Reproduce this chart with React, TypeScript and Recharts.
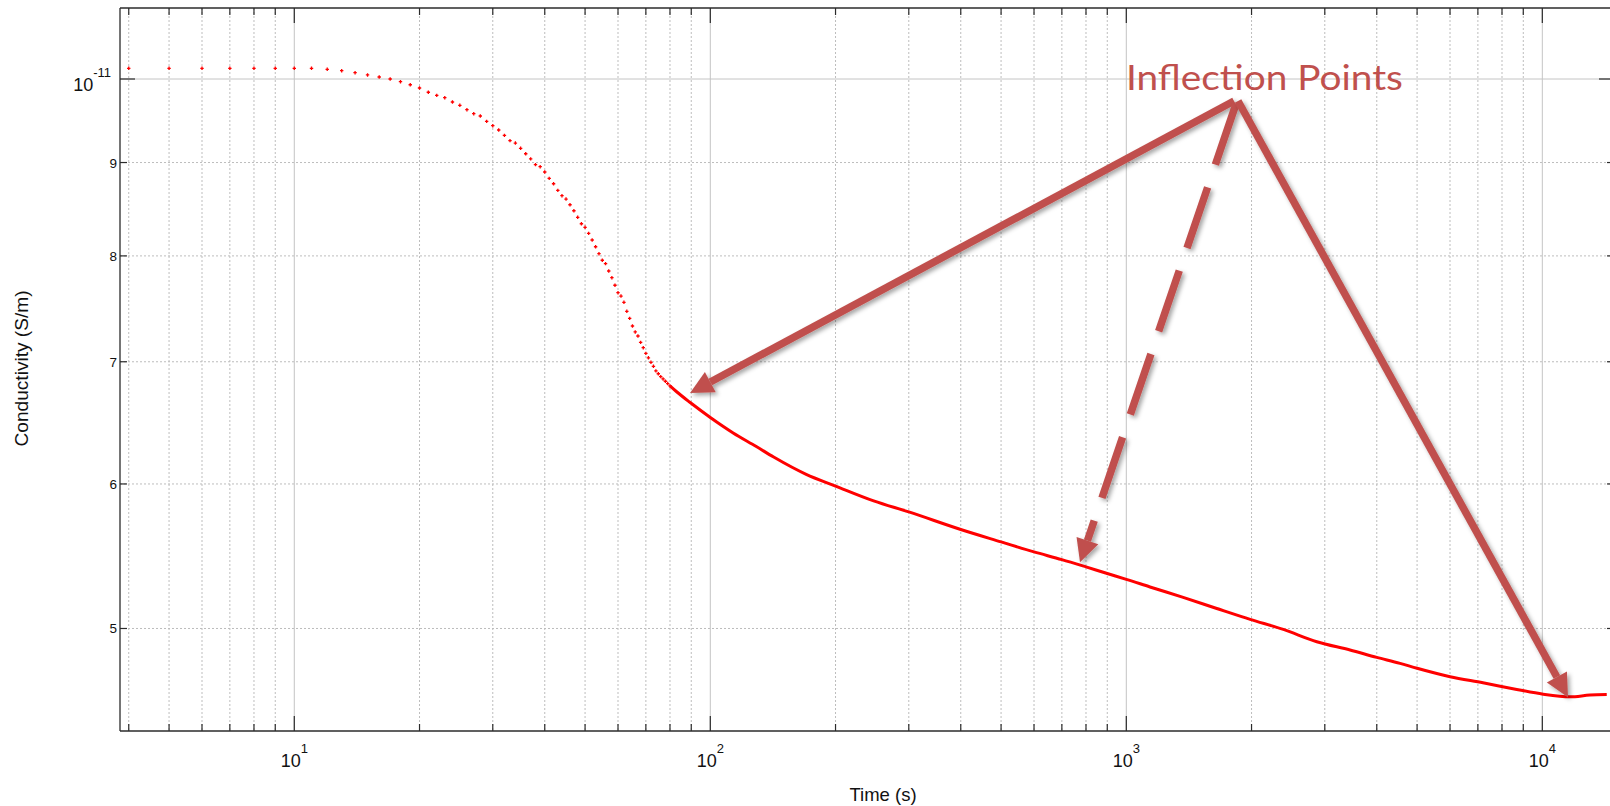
import {
  CartesianGrid,
  ComposedChart,
  Label,
  Line,
  ReferenceDot,
  ReferenceLine,
  Scatter,
  XAxis,
  YAxis,
} from 'recharts';

// Conductivity in units of 1e-12 S/m, time in seconds.
const X_DOMAIN: [number, number] = [3.811, 14870];
const Y_DOMAIN: [number, number] = [4.3935, 10.937];

const X_MAJOR = [10, 100, 1000, 10000];
const X_MINOR = [
  4, 5, 6, 7, 8, 9, 20, 30, 40, 50, 60, 70, 80, 90, 200, 300, 400, 500, 600, 700, 800, 900,
  2000, 3000, 4000, 5000, 6000, 7000, 8000, 9000,
];
const Y_MAJOR = [10];
const Y_MINOR = [5, 6, 7, 8, 9];
const Y_TICKS = [5, 6, 7, 8, 9, 10];

// early samples, one per second, drawn as separate markers
const DOT_T = [
  4, 5, 6, 7, 8, 9, 10, 11, 12, 13, 14, 15, 16, 17, 18, 19, 20, 21, 22, 23, 24, 25, 26, 27, 28, 29,
  30, 31, 32, 33, 34, 35, 36, 37, 38, 39, 40, 41, 42, 43, 44, 45, 46, 47, 48, 49, 50, 51, 52, 53,
  54, 55, 56, 57, 58, 59, 60, 61, 62, 63, 64, 65, 66, 67, 68, 69, 70, 71, 72, 73, 74, 75, 76, 77,
  78, 79, 80,
];
const DOT_V = [
  10.136, 10.136, 10.136, 10.136, 10.136, 10.136, 10.136, 10.136, 10.123, 10.105, 10.08, 10.051,
  10.025, 10.0, 9.966, 9.928, 9.887, 9.834, 9.796, 9.767, 9.714, 9.674, 9.62, 9.572, 9.544, 9.48,
  9.428, 9.377, 9.314, 9.252, 9.224, 9.163, 9.1, 9.041, 8.976, 8.953, 8.893, 8.822, 8.762, 8.689,
  8.631, 8.595, 8.533, 8.469, 8.399, 8.331, 8.294, 8.231, 8.162, 8.093, 8.022, 7.956, 7.922, 7.849,
  7.783, 7.709, 7.637, 7.605, 7.545, 7.46, 7.394, 7.323, 7.268, 7.231, 7.173, 7.125, 7.074, 7.035,
  6.995, 6.96, 6.92, 6.895, 6.87, 6.85, 6.83, 6.81, 6.79,
];

// later samples are so dense they read as a solid line
const LINE_T = [
  80, 83, 89.3, 100, 113.5, 129, 142, 170, 200, 247, 300, 400, 500, 600, 700, 800, 900, 1000,
  1140, 1370, 1650, 1985, 2385, 2870, 3450, 4000, 4550, 5000, 6000, 7200, 8680, 10050, 11660,
  13020, 14285,
];
const LINE_V = [
  6.79, 6.74, 6.651, 6.525, 6.399, 6.29, 6.207, 6.073, 5.984, 5.873, 5.792, 5.665, 5.577, 5.507,
  5.454, 5.404, 5.359, 5.32, 5.269, 5.2, 5.128, 5.058, 4.994, 4.917, 4.866, 4.821, 4.785, 4.755,
  4.705, 4.669, 4.63, 4.602, 4.587, 4.597, 4.6,
];

const ANNOTATION = 'Inflection Points';
const ANNOTATION_AT = { t: 998, v: 9.862 };
const ARROWS = [
  { from: { t: 1815, v: 9.726 }, to: { t: 89.4, v: 6.73 }, dashed: false },
  { from: { t: 1835, v: 9.689 }, to: { t: 774, v: 5.435 }, dashed: true },
  { from: { t: 1856, v: 9.726 }, to: { t: 11529, v: 4.585 }, dashed: false },
];

const dots = DOT_T.map((t, i) => ({ t, v: DOT_V[i] }));
const linePts = LINE_T.map((t, i) => ({ t, v: LINE_V[i] }));

const AXIS = '#2b2b2b';
const GRID = '#bdbdbd';
const ARROW_RED = '#c0504d';
const FONT = '"Liberation Sans", Arial, sans-serif';

function scaleFn(axis: any) {
  const s = axis?.scale;
  if (typeof s === 'function') return (v: number) => s(v);
  if (s && typeof s.map === 'function') return (v: number) => s.map(v);
  return () => NaN;
}

function PlusDot(p: any) {
  const { cx, cy } = p;
  return (
    <path
      d={`M${cx - 1.7},${cy}h3.4M${cx},${cy - 1.7}v3.4`}
      stroke="#ff0000"
      strokeWidth={1.3}
    />
  );
}

function XTickLabel(p: any) {
  const exp = Math.round(Math.log10(p.payload.value));
  return (
    <text x={p.x} y={p.y + 36} textAnchor="middle" fontFamily={FONT} fill="#111">
      <tspan fontSize={18}>10</tspan>
      <tspan fontSize={13} dy={-14}>{exp}</tspan>
    </text>
  );
}

function YTickLabel(p: any) {
  const v = p.payload.value;
  if (v === 10) {
    return (
      <text x={p.x - 9} y={p.y + 12} textAnchor="end" fontFamily={FONT} fill="#111">
        <tspan fontSize={18}>10</tspan>
        <tspan fontSize={13} dy={-14}>-11</tspan>
      </text>
    );
  }
  return (
    <text x={p.x - 3} y={p.y + 5} textAnchor="end" fontFamily={FONT} fontSize={13.5} fill="#111">
      {v}
    </text>
  );
}

function VTicks(p: any & { len: number }) {
  const top = Math.min(p.y1, p.y2);
  const bot = Math.max(p.y1, p.y2);
  return (
    <g stroke={AXIS} strokeWidth={1.2}>
      <line x1={p.x1} x2={p.x1} y1={bot} y2={bot - p.len} />
      <line x1={p.x1} x2={p.x1} y1={top} y2={top + p.len} />
    </g>
  );
}

function HTicks(p: any & { len: number }) {
  const left = Math.min(p.x1, p.x2);
  const right = Math.max(p.x1, p.x2);
  return (
    <g stroke={AXIS} strokeWidth={1.2}>
      <line y1={p.y1} y2={p.y1} x1={left} x2={left + p.len} />
      <line y1={p.y1} y2={p.y1} x1={right} x2={right - p.len} />
    </g>
  );
}

function Arrow(p: any & { dashed: boolean }) {
  const { x1, y1, x2, y2, dashed } = p;
  const dx = x2 - x1;
  const dy = y2 - y1;
  const len = Math.hypot(dx, dy);
  const ux = dx / len;
  const uy = dy / len;
  const head = 23;
  const half = 11.5;
  const bx = x2 - ux * head;
  const by = y2 - uy * head;
  const pts = `${x2},${y2} ${bx - uy * half},${by + ux * half} ${bx + uy * half},${by - ux * half}`;
  return (
    <g filter="url(#arrowShadow)">
      <line
        x1={x1}
        y1={y1}
        x2={bx}
        y2={by}
        stroke={ARROW_RED}
        strokeWidth={7.5}
        strokeDasharray={dashed ? '64 24' : undefined}
      />
      <polygon points={pts} fill={ARROW_RED} />
    </g>
  );
}

function AnnotationText(p: any) {
  return (
    <g>
      <defs>
        <filter id="arrowShadow" filterUnits="userSpaceOnUse" x="0" y="0" width="1700" height="900">
          <feDropShadow dx="2.5" dy="2.5" stdDeviation="2" floodColor="#000" floodOpacity="0.35" />
        </filter>
      </defs>
      <text
        x={p.cx}
        y={p.cy}
        fontFamily="Lato, 'Open Sans', sans-serif"
        fontSize={35}
        fill={ARROW_RED}
        textLength={277}
        lengthAdjust="spacingAndGlyphs"
      >
        {ANNOTATION}
      </text>
    </g>
  );
}

export default function App() {
  return (
    <div
      style={{
        position: 'absolute',
        left: 0,
        top: 0,
        width: 1610,
        height: 806,
        overflow: 'hidden',
        background: '#fff',
      }}
    >
      <ComposedChart width={1620} height={806} margin={{ top: 8, right: 6, bottom: 0, left: 0 }}>
        <CartesianGrid
          stroke={GRID}
          strokeDasharray="2 2"
          verticalCoordinatesGenerator={({ xAxis }: any) => X_MINOR.map(scaleFn(xAxis))}
          horizontalCoordinatesGenerator={({ yAxis }: any) => Y_MINOR.map(scaleFn(yAxis))}
        />
        <CartesianGrid
          stroke="#c4c4c4"
          verticalCoordinatesGenerator={({ xAxis }: any) => X_MAJOR.map(scaleFn(xAxis))}
          horizontalCoordinatesGenerator={({ yAxis }: any) => Y_MAJOR.map(scaleFn(yAxis))}
        />
        <XAxis
          dataKey="t"
          type="number"
          scale="log"
          domain={X_DOMAIN}
          allowDataOverflow
          ticks={X_MAJOR}
          interval={0}
          tick={(p: any) => <XTickLabel {...p} />}
          tickLine={false}
          tickSize={0}
          tickMargin={0}
          axisLine={{ stroke: AXIS, strokeWidth: 1.3 }}
          height={75}
        >
          <Label
            content={(p: any) => {
              const vb = p.viewBox;
              return (
                <text
                  x={vb.x + vb.width / 2 + 16}
                  y={vb.y + vb.height - 5}
                  textAnchor="middle"
                  fontFamily={FONT}
                  fontSize={18.5}
                  fill="#111"
                >
                  Time (s)
                </text>
              );
            }}
          />
        </XAxis>
        <YAxis
          dataKey="v"
          type="number"
          scale="log"
          domain={Y_DOMAIN}
          allowDataOverflow
          ticks={Y_TICKS}
          interval={0}
          tick={(p: any) => <YTickLabel {...p} />}
          tickLine={false}
          tickSize={0}
          tickMargin={0}
          axisLine={{ stroke: AXIS, strokeWidth: 1.3 }}
          width={120}
        >
          <Label
            content={(p: any) => {
              const vb = p.viewBox;
              return (
                <text
                  transform={`translate(${vb.x + 28},${vb.y + vb.height / 2 - 1}) rotate(-90)`}
                  textAnchor="middle"
                  fontFamily={FONT}
                  fontSize={19}
                  textLength={156}
                  lengthAdjust="spacingAndGlyphs"
                  fill="#111"
                >
                  Conductivity (S/m)
                </text>
              );
            }}
          />
        </YAxis>

        <ReferenceLine y={Y_DOMAIN[1]} stroke={AXIS} strokeWidth={1.3} />
        <ReferenceLine x={X_DOMAIN[1]} stroke={AXIS} strokeWidth={1.3} />
        {X_MAJOR.map((v) => (
          <ReferenceLine key={`xM${v}`} x={v} shape={(p: any) => <VTicks {...p} len={15} />} />
        ))}
        {X_MINOR.map((v) => (
          <ReferenceLine key={`xm${v}`} x={v} shape={(p: any) => <VTicks {...p} len={7} />} />
        ))}
        {Y_MAJOR.map((v) => (
          <ReferenceLine key={`yM${v}`} y={v} shape={(p: any) => <HTicks {...p} len={15} />} />
        ))}
        {Y_MINOR.map((v) => (
          <ReferenceLine key={`ym${v}`} y={v} shape={(p: any) => <HTicks {...p} len={7} />} />
        ))}

        <Scatter data={dots} dataKey="v" shape={(p: any) => <PlusDot {...p} />} isAnimationActive={false} />
        <Line
          data={linePts}
          dataKey="v"
          type="monotone"
          stroke="#ff0000"
          strokeWidth={3}
          dot={false}
          activeDot={false}
          isAnimationActive={false}
        />

        <ReferenceDot
          x={ANNOTATION_AT.t}
          y={ANNOTATION_AT.v}
          r={0}
          shape={(p: any) => <AnnotationText {...p} />}
        />
        {ARROWS.map((a, i) => (
          <ReferenceLine
            key={`arrow${i}`}
            segment={[
              { x: a.from.t, y: a.from.v },
              { x: a.to.t, y: a.to.v },
            ]}
            shape={(p: any) => <Arrow {...p} dashed={a.dashed} />}
          />
        ))}
      </ComposedChart>
    </div>
  );
}
